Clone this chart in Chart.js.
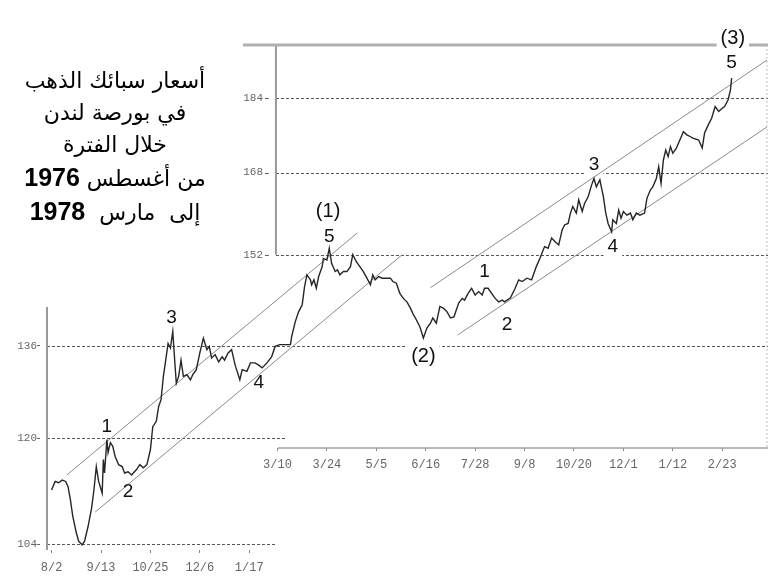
<!DOCTYPE html>
<html><head><meta charset="utf-8">
<script src="https://cdn.jsdelivr.net/npm/chart.js@4.4.1/dist/chart.umd.min.js"></script>
<style>
html,body{margin:0;padding:0;background:#fff;}
#wrap{position:relative;width:771px;height:584px;overflow:hidden;}
#c{position:absolute;left:0;top:0;}
#title{position:absolute;left:10px;top:65px;width:210px;text-align:center;direction:rtl;font-family:"DejaVu Sans",sans-serif;font-size:22px;line-height:32px;color:#000;white-space:nowrap;}
#title b{font-family:"Liberation Sans",Arial,sans-serif;font-size:25px;font-weight:bold;}
</style></head><body>
<div id="wrap">
<canvas id="c" width="771" height="584" style="width:771px;height:584px"></canvas>
<div id="title">
<div>أسعار سبائك الذهب</div>
<div>في بورصة لندن</div>
<div>خلال الفترة</div>
<div>من أغسطس <b>1976</b></div>
<div>إلى&nbsp; مارس&nbsp; <b>1978</b></div>
</div>
</div>
<script>
// ---- data (days counted from 2 Aug 1976, prices in $/oz) ----
const lowerTickDays = [0, 42, 84, 126, 168];
const lowerTickLabels = ['8/2', '9/13', '10/25', '12/6', '1/17'];
const upperTickDays = [192, 234, 276, 318, 360, 402, 444, 486, 528, 570];
const upperTickLabels = ['3/10', '3/24', '5/5', '6/16', '7/28', '9/8', '10/20', '12/1', '1/12', '2/23'];
const lowerPriceTicks = [104, 120, 136];
const upperPriceTicks = [152, 168, 184];

const priceDays = [0,3,6,9,12,14,16,17,18,21,23,26,28,31,34,36,38,40,43,44,45,47,48,50,52,54,57,60,62,65,68,72,75,78,81,84,86,89,91,93,95,97,99,101,103,105,106,108,110,112,115,118,120,123,126,129,132,134,136,139,142,145,147,150,153,156,160,162,166,169,173,176,179,183,187,190,194,200,203,204,207,210,213,215,217,220,221,223,225,227,230,231,234,236,238,241,243,245,248,251,254,256,259,262,265,268,271,273,275,278,281,283,288,290,293,296,299,302,305,307,310,313,316,319,322,324,327,330,333,336,339,342,346,349,351,354,357,360,363,366,368,371,374,377,380,383,385,390,394,397,400,404,408,412,415,419,422,425,428,431,434,436,439,441,443,446,448,451,453,456,459,461,463,466,469,471,473,476,477,480,482,484,486,489,492,494,497,500,504,506,509,511,514,516,518,520,522,524,526,528,531,534,537,540,543,545,550,553,555,558,561,564,567,570,572,575,577,578];
const priceValues = [111.9,113.2,113.0,113.4,113.2,112.4,110.4,109.2,108.0,105.6,104.4,103.9,104.4,106.5,109.2,111.9,115.5,113.2,111.4,116.6,114.5,119.8,117.7,119.3,118.7,117.1,115.8,115.5,114.5,114.7,114.2,115.0,115.8,115.3,115.8,118.2,121.9,122.8,125.3,126.4,130.5,133.4,136.4,135.6,138.4,132.2,129.3,130.5,133.4,130.5,130.8,129.9,130.8,131.7,134.7,137.3,135.3,135.9,133.8,134.4,133.1,134.0,133.4,134.7,135.3,132.5,129.9,131.7,131.4,132.9,132.9,132.5,132.0,132.9,134.0,135.9,136.2,136.2,136.2,137.5,140.0,141.8,143.0,146.2,148.3,147.4,146.5,147.4,145.9,148.0,149.8,151.3,151.0,153.2,150.4,148.9,149.2,148.3,148.9,148.9,149.8,152.0,150.7,149.8,148.9,147.7,146.5,148.3,147.4,148.0,147.7,147.7,147.7,147.1,146.8,145.0,144.1,143.5,142.4,141.5,140.4,139.2,137.3,139.0,139.8,140.7,139.8,142.7,142.4,141.8,140.7,140.9,143.3,144.1,143.8,145.0,145.9,144.7,145.3,144.7,145.9,145.9,145.0,144.1,143.5,143.8,143.5,144.2,145.9,147.4,147.1,147.7,147.4,149.8,151.3,153.5,153.2,155.1,154.4,153.8,156.7,157.6,157.9,159.9,161.2,159.9,162.5,160.2,161.8,163.1,165.5,166.8,165.1,166.5,163.1,159.9,157.9,156.3,158.6,157.9,160.5,158.9,160.2,159.5,159.9,158.6,159.9,159.5,159.9,162.8,164.5,165.1,166.8,169.2,165.8,170.6,172.7,171.3,173.4,172.0,173.1,174.8,176.6,175.9,175.5,175.2,174.8,173.1,176.3,178.0,179.5,182.1,181.0,181.7,182.1,183.6,185.8,188.5];

// trend channel lines: [start day, end day] and [start price, end price]
const trendLineDays = [[13, 260], [37, 298], [322, 608], [345, 608]];
const trendLinePrices = [[114.2, 156.1], [108.6, 152.0], [146.0, 192.7], [137.8, 177.6]];

// Elliott wave labels
const waveLabelTexts = ['1', '2', '3', '4', '5', '(1)', '(2)', '1', '2', '3', '4', '5', '(3)'];
const waveLabelDays = [47, 65, 102, 176, 236, 235, 316, 368, 387, 461, 477, 578, 579];
const waveLabelPrices = [121.9, 111.7, 140.7, 129.3, 155.4, 160.2, 134.0, 148.9, 139.5, 169.6, 153.5, 192.0, 197.9];

// ---- scale setup ----
const X_MIN = -3.9, X_MAX = 608.9, Y_MIN = 103.17, Y_MAX = 199.9;
const SPLIT = { at: 136, below: 1702, above: 1889 };
const UPPER_AXIS_DAY = 190.7;

class SplitLogScale extends Chart.LinearScale {
  static id = 'splitlog';
  _tf(v) {
    const l = Math.log10(v / SPLIT.at);
    return l < 0 ? l * SPLIT.below : l * SPLIT.above;
  }
  getPixelForValue(value) {
    if (value === null || value === undefined || !(value > 0)) return NaN;
    const a = this._tf(this.min), b = this._tf(this.max);
    return this.getPixelForDecimal((this._tf(value) - a) / (b - a));
  }
  getValueForPixel(pixel) {
    const a = this._tf(this.min), b = this._tf(this.max);
    const t = a + this.getDecimalForPixel(pixel) * (b - a);
    return SPLIT.at * Math.pow(10, t < 0 ? t / SPLIT.below : t / SPLIT.above);
  }
}
Chart.register(SplitLogScale);

const FRAME = {
  refLines: [[184, UPPER_AXIS_DAY, X_MAX], [168, UPPER_AXIS_DAY, X_MAX], [152, UPPER_AXIS_DAY, X_MAX], [136, X_MIN, X_MAX], [120, X_MIN, 198.4], [104, X_MIN, 189.9]],
  lines: [
    { d0: X_MIN, p0: 142.6, d1: X_MIN, p1: Y_MIN, color: '#9a9a9a', width: 2 },
    { d0: UPPER_AXIS_DAY, p0: 196.3, d1: UPPER_AXIS_DAY, p1: 152, color: '#9a9a9a', width: 2 },
    { d0: 162.7, p0: 196.3, d1: X_MAX, p1: 196.3, color: '#b0b0b0', width: 3 },
    { d0: 608, p0: 196.3, d1: 608, p1: 118.46, color: '#bdbdbd', width: 1, dash: [2, 2] },
    { d0: 192.4, p0: 118.46, d1: X_MAX, p1: 118.46, color: '#a0a0a0', width: 1.5 }
  ]
};

function labelFont(t) { return (t.length > 1 ? '20px' : '19px') + ' "Liberation Sans", Arial, sans-serif'; }

const framePlugin = {
  id: 'frame',
  beforeDatasetsDraw(chart) {
    const { ctx, scales: { x, y } } = chart;
    ctx.save();
    ctx.strokeStyle = '#555'; ctx.lineWidth = 1; ctx.setLineDash([3, 2]);
    FRAME.refLines.forEach(([v, d0, d1]) => {
      const py = Math.round(y.getPixelForValue(v)) + 0.5;
      ctx.beginPath(); ctx.moveTo(x.getPixelForValue(d0), py); ctx.lineTo(x.getPixelForValue(d1), py); ctx.stroke();
    });
    FRAME.lines.forEach(f => {
      ctx.strokeStyle = f.color; ctx.lineWidth = f.width; ctx.setLineDash(f.dash || []);
      ctx.beginPath();
      ctx.moveTo(x.getPixelForValue(f.d0), y.getPixelForValue(f.p0));
      ctx.lineTo(x.getPixelForValue(f.d1), y.getPixelForValue(f.p1));
      ctx.stroke();
    });
    ctx.setLineDash([]);
    // small tick dashes beside the upper price labels
    ctx.strokeStyle = '#666'; ctx.lineWidth = 1;
    const ax = x.getPixelForValue(UPPER_AXIS_DAY);
    upperPriceTicks.forEach(v => {
      const py = Math.round(y.getPixelForValue(v)) + 0.5;
      ctx.beginPath(); ctx.moveTo(ax - 11, py); ctx.lineTo(ax - 7, py); ctx.stroke();
    });
    ctx.fillStyle = '#fff';
    waveLabelTexts.forEach((t, i) => {
      ctx.font = labelFont(t);
      const w = ctx.measureText(t).width + 8;
      const px = x.getPixelForValue(waveLabelDays[i]), py = y.getPixelForValue(waveLabelPrices[i]);
      ctx.fillRect(px - w / 2, py - 11, w, 22);
    });
    ctx.restore();
  },
  afterDatasetsDraw(chart) {
    const { ctx, scales: { x, y } } = chart;
    ctx.save();
    ctx.fillStyle = '#111'; ctx.textAlign = 'center'; ctx.textBaseline = 'middle';
    waveLabelTexts.forEach((t, i) => {
      ctx.font = labelFont(t);
      ctx.fillText(t, x.getPixelForValue(waveLabelDays[i]), y.getPixelForValue(waveLabelPrices[i]));
    });
    ctx.restore();
  }
};

const tickFont = { family: '"Liberation Mono", "DejaVu Sans Mono", monospace', size: 12 };
const yTickFont = { family: '"Liberation Mono", "DejaVu Sans Mono", monospace', size: 11 };

const datasets = [{
  data: priceDays.map((d, i) => ({ x: d, y: priceValues[i] })),
  borderColor: '#262626', borderWidth: 1.4, pointRadius: 0, tension: 0, xAxisID: 'x', yAxisID: 'y'
}].concat(trendLineDays.map((ds, k) => ({
  data: ds.map((d, j) => ({ x: d, y: trendLinePrices[k][j] })),
  borderColor: '#8a8a8a', borderWidth: 1, pointRadius: 0, xAxisID: 'x', yAxisID: 'y'
})));

new Chart(document.getElementById('c'), {
  type: 'line',
  data: { datasets },
  plugins: [framePlugin],
  options: {
    responsive: false, animation: false, devicePixelRatio: 1,
    layout: { padding: { left: 0, right: 3, top: 30, bottom: 0 } },
    plugins: { legend: { display: false }, tooltip: { enabled: false } },
    scales: {
      x: {
        type: 'linear', position: 'bottom', min: X_MIN, max: X_MAX, bounds: 'data',
        afterFit: s => { s.height = 34; },
        afterBuildTicks: s => { s.ticks = lowerTickDays.map(v => ({ value: v })); },
        grid: { drawOnChartArea: false, drawTicks: true, tickLength: 3, tickColor: '#888' },
        border: { display: false },
        ticks: { autoSkip: false, maxRotation: 0, padding: 8, color: '#666', font: tickFont, callback: (v, i) => lowerTickLabels[i] }
      },
      x2: {
        type: 'linear', position: { y: 118.46 }, min: X_MIN, max: X_MAX, bounds: 'data',
        afterBuildTicks: s => { s.ticks = upperTickDays.map(v => ({ value: v })); },
        grid: { drawOnChartArea: false, drawTicks: true, tickLength: 3, tickColor: '#888' },
        border: { display: false },
        ticks: { autoSkip: false, maxRotation: 0, padding: 7, color: '#666', font: tickFont, callback: (v, i) => upperTickLabels[i] }
      },
      y: {
        type: 'splitlog', position: 'left', min: Y_MIN, max: Y_MAX, bounds: 'data',
        afterFit: s => { s.width = 47; },
        afterBuildTicks: s => { s.ticks = lowerPriceTicks.map(v => ({ value: v })); },
        grid: { drawOnChartArea: false, drawTicks: true, tickLength: 10, tickBorderDash: [3, 10], tickColor: '#666' },
        border: { display: false },
        ticks: { padding: 0, color: '#666', font: yTickFont, callback: v => String(v) }
      },
      y2: {
        type: 'splitlog', position: { x: 179.7 }, min: Y_MIN, max: Y_MAX, bounds: 'data',
        afterBuildTicks: s => { s.ticks = upperPriceTicks.map(v => ({ value: v })); },
        grid: { drawOnChartArea: false, drawTicks: false },
        border: { display: false },
        ticks: { padding: 0, color: '#666', font: yTickFont, callback: v => String(v) }
      }
    }
  }
});
</script>
</body></html>
